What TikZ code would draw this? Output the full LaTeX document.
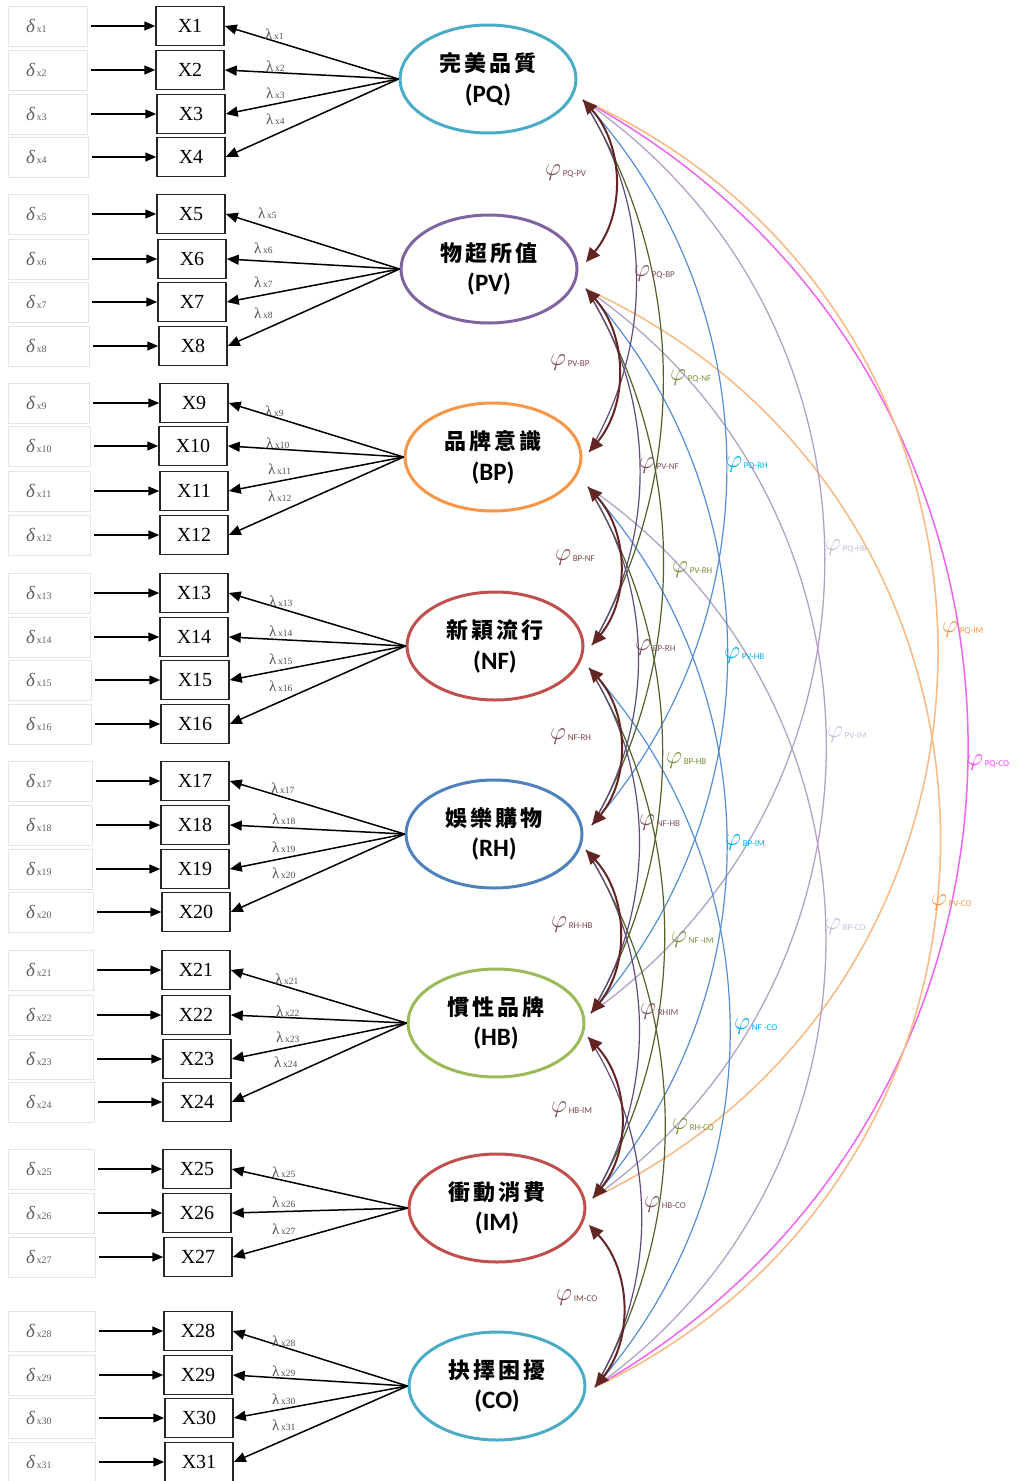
\documentclass[tikz,border=0pt]{standalone}
\usepackage{fontspec}
\setmainfont{Liberation Serif}
\newfontfamily\cjkfont{Noto Sans CJK TC}
\newfontfamily\carl{Carlito}
\usetikzlibrary{arrows.meta,shapes.geometric,calc}
\definecolor{cPQ}{HTML}{4BACC6}
\definecolor{cPV}{HTML}{8064A2}
\definecolor{cBP}{HTML}{F79646}
\definecolor{cNF}{HTML}{C0504D}
\definecolor{cRH}{HTML}{4F81BD}
\definecolor{cHB}{HTML}{9BBB59}
\definecolor{brn}{HTML}{632523}
\definecolor{ldA}{HTML}{604A7B}
\definecolor{ldB}{HTML}{4F6228}
\definecolor{ldC}{HTML}{558ED5}
\definecolor{ldD}{HTML}{B3A2C7}
\definecolor{ldE}{HTML}{F8BC88}
\definecolor{ldF}{HTML}{F064F0}
\definecolor{lbZ}{HTML}{7E4A4A}
\definecolor{lbA}{HTML}{7F4F5F}
\definecolor{lbB}{HTML}{76923C}
\definecolor{lbC}{HTML}{00B0F0}
\definecolor{lbD}{HTML}{C8BEDA}
\definecolor{lbE}{HTML}{F79646}
\definecolor{lbF}{HTML}{FF40FF}
\definecolor{dgray}{HTML}{606060}
\definecolor{lgray}{HTML}{505050}
\newcommand\corr[5]{\draw[#1] (#2) .. controls ($(#2)!#4!#5:(#3)$) and ($(#3)!#4!-#5:(#2)$) .. (#3);}
\newcommand\phitext[1]{{\fontsize{26}{26}\selectfont$\varphi$}\,\raisebox{-1pt}{\carl\fontsize{9}{9}\selectfont #1}}
\newcommand\lamtext[1]{{\fontsize{15}{15}\selectfont λ}\,{\fontsize{9.5}{9.5}\selectfont x#1}}
\newcommand\deltext[1]{{\fontsize{19}{19}\selectfont\itshape δ}\,{\fontsize{10}{10}\selectfont x#1}}
\newcommand\cjkline[4]{{\cjkfont\bfseries\fontsize{22}{22}\selectfont #1\hspace{3pt}#2\hspace{3pt}#3\hspace{3pt}#4}}
\newcommand\abbr[1]{{\carl\bfseries\fontsize{25}{25}\selectfont (#1)}}
\newcommand\mrow[4]{%
  \node[dbox, minimum width={#3-8}] (db#1) at ({(8+#3)/2},#2) {};
  \node[anchor=west, text=dgray, inner sep=0pt] (dt#1) at (26,#2) {\deltext{#1}};
  \node[xbox] (X#1) at ({#4+34},#2) {X#1};
  \draw[ind] (db#1) -- (X#1);}
\begin{document}
\begin{tikzpicture}[x=1pt,y=-1pt,
  xbox/.style={draw=black!85, line width=1.5pt, minimum width=68pt, minimum height=39pt, inner sep=0pt, font=\fontsize{20}{20}\selectfont},
  dbox/.style={draw=black!10, line width=0.8pt, minimum height=40pt, inner sep=0pt, outer xsep=4pt},
  lat/.style={ellipse, line width=3pt, minimum width=176pt, minimum height=108pt, inner sep=0pt, align=center, fill=white},
  ind/.style={-{Triangle[length=11pt,width=9pt]}, line width=1.5pt},
  lam/.style={-{Triangle[length=12pt,width=10pt]}, line width=1.5pt},
  lamlab/.style={anchor=west, inner sep=0pt, text=lgray},
  adj/.style={{Triangle[length=14pt,width=13pt]}-{Triangle[length=14pt,width=13pt]}, line width=2pt, draw=brn},
  dA/.style={draw=ldA, line width=1.2pt},
  dB/.style={draw=ldB, line width=1.2pt},
  dC/.style={draw=ldC, line width=1.2pt},
  dD/.style={draw=ldD, line width=1.3pt},
  dE/.style={draw=ldE, line width=1.6pt},
  dF/.style={draw=ldF, line width=1.5pt},
  plab/.style={anchor=west, inner sep=0pt}]
\fill[white] (0,0) rectangle (1022,1481);
\useasboundingbox (0,0) rectangle (1022,1481);

% latent variables
\node[lat, draw=cPQ] (PQ) at (488,79) {\cjkline{完}{美}{品}{質}\\[9pt]\abbr{PQ}};
\node[lat, draw=cPV] (PV) at (489,269) {\cjkline{物}{超}{所}{值}\\[9pt]\abbr{PV}};
\node[lat, draw=cBP] (BP) at (493,457) {\cjkline{品}{牌}{意}{識}\\[9pt]\abbr{BP}};
\node[lat, draw=cNF] (NF) at (495,646) {\cjkline{新}{穎}{流}{行}\\[9pt]\abbr{NF}};
\node[lat, draw=cRH] (RH) at (494,834) {\cjkline{娛}{樂}{購}{物}\\[9pt]\abbr{RH}};
\node[lat, draw=cHB] (HB) at (496,1023) {\cjkline{慣}{性}{品}{牌}\\[9pt]\abbr{HB}};
\node[lat, draw=cNF] (IM) at (497,1208) {\cjkline{衝}{動}{消}{費}\\[9pt]\abbr{IM}};
\node[lat, draw=cPQ] (CO) at (497,1386) {\cjkline{抉}{擇}{困}{擾}\\[9pt]\abbr{CO}};

% indicator rows
\mrow{1}{26}{87}{156}
\mrow{2}{70}{87}{156}
\mrow{3}{114}{87}{157}
\mrow{4}{157}{88}{157}
\mrow{5}{214}{88}{157}
\mrow{6}{259}{88}{158}
\mrow{7}{302}{88}{158}
\mrow{8}{346}{89}{159}
\mrow{9}{403}{89}{160}
\mrow{10}{446}{90}{159}
\mrow{11}{491}{90}{160}
\mrow{12}{535}{90}{160}
\mrow{13}{593}{90}{160}
\mrow{14}{637}{90}{160}
\mrow{15}{680}{91}{161}
\mrow{16}{724}{91}{161}
\mrow{17}{781}{92}{161}
\mrow{18}{825}{92}{161}
\mrow{19}{869}{92}{161}
\mrow{20}{912}{93}{162}
\mrow{21}{970}{93}{162}
\mrow{22}{1015}{93}{162}
\mrow{23}{1059}{93}{163}
\mrow{24}{1102}{94}{163}
\mrow{25}{1169}{94}{163}
\mrow{26}{1213}{94}{163}
\mrow{27}{1257}{95}{164}
\mrow{28}{1331}{95}{164}
\mrow{29}{1375}{95}{164}
\mrow{30}{1418}{95}{165}
\mrow{31}{1462}{95}{165}

% loadings
\foreach \i in {1,...,4} {\draw[lam] (PQ.west) -- (X\i.east);}
\foreach \i in {5,...,8} {\draw[lam] (PV.west) -- (X\i.east);}
\foreach \i in {9,...,12} {\draw[lam] (BP.west) -- (X\i.east);}
\foreach \i in {13,...,16} {\draw[lam] (NF.west) -- (X\i.east);}
\foreach \i in {17,...,20} {\draw[lam] (RH.west) -- (X\i.east);}
\foreach \i in {21,...,24} {\draw[lam] (HB.west) -- (X\i.east);}
\foreach \i in {25,...,27} {\draw[lam] (IM.west) -- (X\i.east);}
\foreach \i in {28,...,31} {\draw[lam] (CO.west) -- (X\i.east);}

% lambda labels
\foreach \i/\x/\y in {1/265/34,2/266/66,3/266/93,4/266/119,5/258/213,6/254/248,7/254/282,8/254/313,
  9/265/411,10/266/443,11/268/469,12/268/496,13/269/601,14/269/631,15/269/659,16/269/686,
  17/271/788,18/272/819,19/272/847,20/272/873,21/275/979,22/276/1011,23/276/1037,24/274/1062,
  25/272/1172,26/272/1202,27/272/1229,28/272/1341,29/272/1371,30/272/1399,31/272/1425}
  {\node[lamlab] (l\i) at (\x,\y) {\lamtext{\i}};}

% ports
\coordinate (PQb) at (583,100);
\coordinate (PVt) at (586,262);
\coordinate (PVb) at (586,289);
\coordinate (BPt) at (589,452);
\coordinate (BPb) at (588,487);
\coordinate (NFt) at (592,645);
\coordinate (NFb) at (589,668);
\coordinate (RHt) at (592,825);
\coordinate (RHb) at (586,850);
\coordinate (HBt) at (591,1013);
\coordinate (HBb) at (588,1037);
\coordinate (IMt) at (593,1198);
\coordinate (IMb) at (589,1225);
\coordinate (COt) at (595,1387);

% correlations
\corr{dF}{PQb}{COt}{0.449}{61}
\corr{dE}{PQb}{IMt}{0.469}{65}
\corr{dE}{PVb}{COt}{0.469}{65}
\corr{dD}{PQb}{HBt}{0.424}{55}
\corr{dD}{PVb}{IMt}{0.424}{55}
\corr{dD}{BPb}{COt}{0.424}{55}
\corr{dC}{PQb}{RHt}{0.383}{42}
\corr{dC}{PVb}{HBt}{0.383}{42}
\corr{dC}{BPb}{IMt}{0.383}{42}
\corr{dC}{NFb}{COt}{0.383}{42}
\corr{dB}{PQb}{NFt}{0.36}{31}
\corr{dB}{PVb}{RHt}{0.36}{31}
\corr{dB}{BPb}{HBt}{0.36}{31}
\corr{dB}{NFb}{IMt}{0.36}{31}
\corr{dB}{RHb}{COt}{0.36}{31}
\corr{dA}{PQb}{BPt}{0.361}{32}
\corr{dA}{PVb}{NFt}{0.361}{32}
\corr{dA}{BPb}{RHt}{0.361}{32}
\corr{dA}{NFb}{HBt}{0.361}{32}
\corr{dA}{RHb}{IMt}{0.361}{32}
\corr{dA}{HBb}{COt}{0.361}{32}
\corr{adj}{PQb}{PVt}{0.38}{41}
\corr{adj}{PVb}{BPt}{0.38}{41}
\corr{adj}{BPb}{NFt}{0.38}{41}
\corr{adj}{NFb}{RHt}{0.38}{41}
\corr{adj}{RHb}{HBt}{0.38}{41}
\corr{adj}{HBb}{IMt}{0.38}{41}
\corr{adj}{IMb}{COt}{0.38}{41}

% correlation labels
\node[plab, text=lbZ] (p1) at (545,173) {\phitext{PQ-PV}};
\node[plab, text=lbZ] (p2) at (550,363) {\phitext{PV-BP}};
\node[plab, text=lbZ] (p3) at (555,558) {\phitext{BP-NF}};
\node[plab, text=lbZ] (p4) at (550,737) {\phitext{NF-RH}};
\node[plab, text=lbZ] (p5) at (551,925) {\phitext{RH-HB}};
\node[plab, text=lbZ] (p6) at (551,1110) {\phitext{HB-IM}};
\node[plab, text=lbZ] (p7) at (556,1298) {\phitext{IM-CO}};
\node[plab, text=lbA] (p8) at (634,274) {\phitext{PQ-BP}};
\node[plab, text=lbA] (p9) at (639,466) {\phitext{PV-NF}};
\node[plab, text=lbA] (p10) at (635,648) {\phitext{BP-RH}};
\node[plab, text=lbA] (p11) at (639,823) {\phitext{NF-HB}};
\node[plab, text=lbA] (p12) at (640,1012) {\phitext{RHIM}};
\node[plab, text=lbA] (p13) at (644,1205) {\phitext{HB-CO}};
\node[plab, text=lbB] (p14) at (670,378) {\phitext{PQ-NF}};
\node[plab, text=lbB] (p15) at (672,570) {\phitext{PV-RH}};
\node[plab, text=lbB] (p16) at (666,761) {\phitext{BP-HB}};
\node[plab, text=lbB] (p17) at (671,940) {\phitext{NF -IM}};
\node[plab, text=lbB] (p18) at (672,1127) {\phitext{RH-CO}};
\node[plab, text=lbC] (p19) at (726,465) {\phitext{PQ-RH}};
\node[plab, text=lbC] (p20) at (724,656) {\phitext{PV-HB}};
\node[plab, text=lbC] (p21) at (725,843) {\phitext{BP-IM}};
\node[plab, text=lbC] (p22) at (734,1027) {\phitext{NF -CO}};
\node[plab, text=lbD] (p23) at (825,548) {\phitext{PQ-HB}};
\node[plab, text=lbD] (p24) at (827,735) {\phitext{PV-IM}};
\node[plab, text=lbD] (p25) at (825,927) {\phitext{BP-CO}};
\node[plab, text=lbE] (p26) at (942,630) {\phitext{PQ-IM}};
\node[plab, text=lbE] (p27) at (931,903) {\phitext{PV-CO}};
\node[plab, text=lbF] (p28) at (967,763) {\phitext{PQ-CO}};
\end{tikzpicture}
\end{document}
